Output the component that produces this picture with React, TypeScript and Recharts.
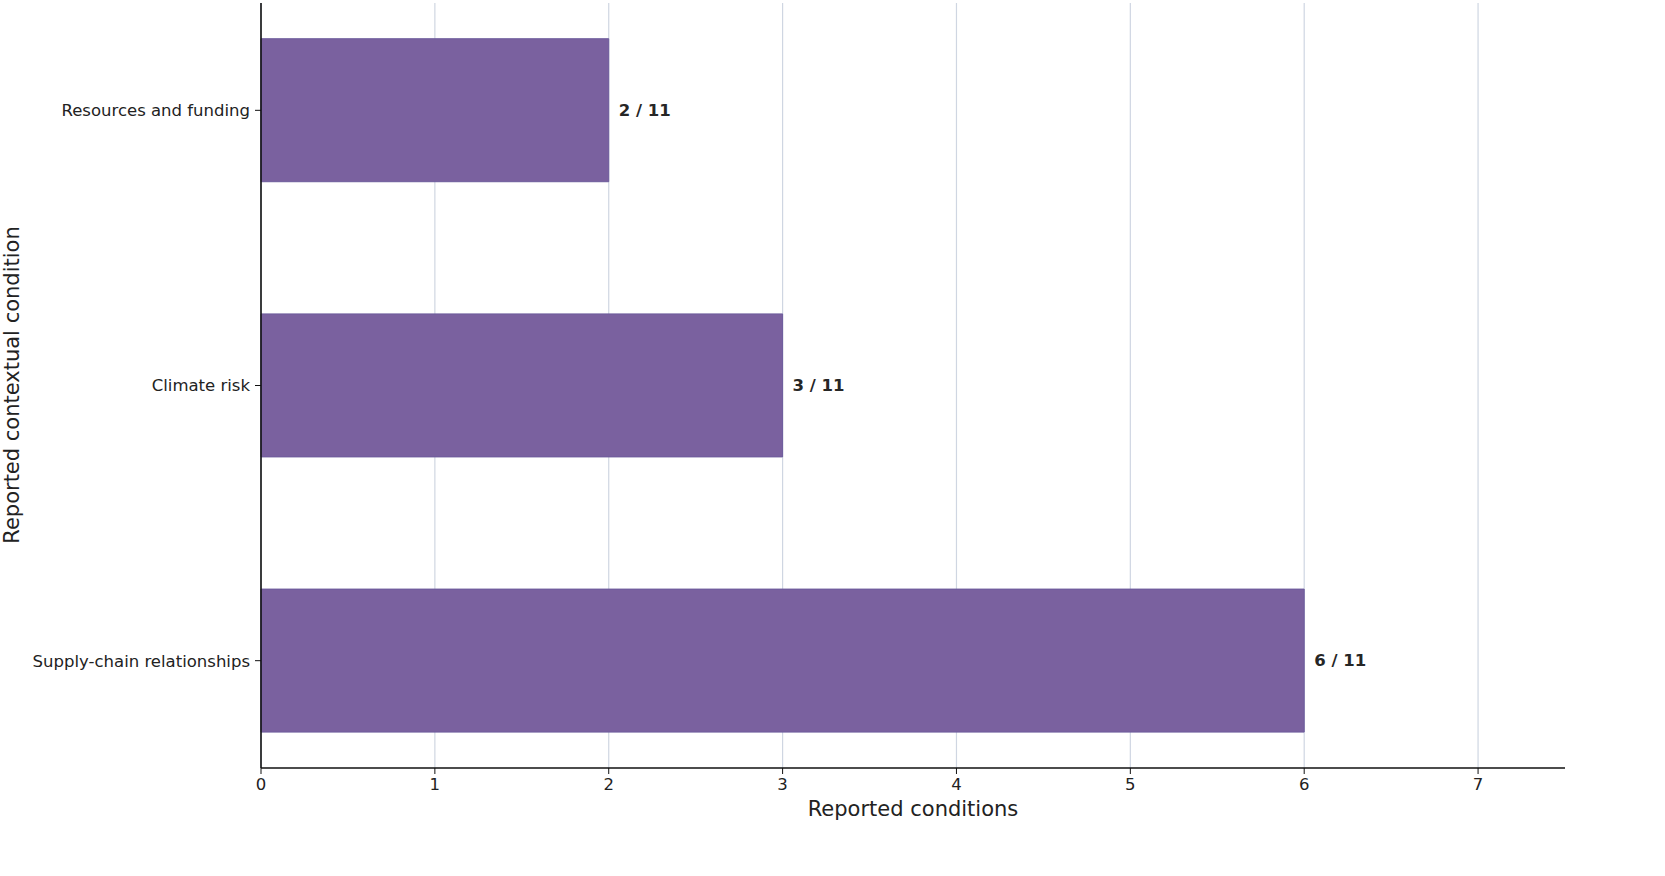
import { BarChart, Bar, XAxis, YAxis, CartesianGrid, LabelList } from 'recharts';

// bottom to top, as in the figure
const categories = ['Supply-chain relationships', 'Climate risk', 'Resources and funding'];
const counts = [6, 3, 2];
const totals = [11, 11, 11];
const xTicks = [0, 1, 2, 3, 4, 5, 6, 7];

const data = categories.map((name, i) => ({
  pos: i,
  name,
  count: counts[i],
  label: `${counts[i]} / ${totals[i]}`,
}));

const FONT = '"DejaVu Sans", sans-serif';

export default function App() {
  return (
    <div style={{ position: 'absolute', left: 0, top: 0, width: 1665, height: 876, background: '#fff', fontFamily: FONT }}>
      <BarChart width={1665} height={876} data={data} layout="vertical"
        margin={{ top: 3, right: 100, bottom: 0, left: 0 }}>
        <CartesianGrid horizontal={false} syncWithTicks stroke="#cfd6e2" strokeWidth={1.2} />
        <XAxis type="number" dataKey="count" domain={[0, 7.5]} ticks={xTicks} height={108}
          tick={{ fill: '#222', fontSize: 16.5, fontFamily: FONT }} tickSize={6} tickMargin={4}
          axisLine={{ stroke: '#111', strokeWidth: 1.6 }} tickLine={{ stroke: '#111' }} />
        <YAxis type="number" dataKey="pos" domain={[-0.39, 2.39]} ticks={[0, 1, 2]} width={261} reversed
          tickFormatter={(v: number) => categories[v] ?? ''}
          tick={{ fill: '#222', fontSize: 16.5, fontFamily: FONT }} tickSize={6} tickMargin={5}
          axisLine={{ stroke: '#111', strokeWidth: 1.6 }} tickLine={{ stroke: '#111' }} />
        <Bar dataKey="count" barSize={143} fill="#7a619f" stroke="#6c5b9b" strokeWidth={1} isAnimationActive={false}>
          <LabelList dataKey="label" position="right" offset={10}
            style={{ fill: '#262626', fontSize: 16.5, fontWeight: 700, fontFamily: FONT }} />
        </Bar>
      </BarChart>
      <div style={{ position: 'absolute', left: 261, width: 1304, top: 797, textAlign: 'center', fontSize: 21, color: '#222' }}>
        Reported conditions
      </div>
      <div style={{ position: 'absolute', left: 12, top: 385, transform: 'translate(-50%, -50%) rotate(-90deg)', whiteSpace: 'nowrap', fontSize: 21, color: '#222' }}>
        Reported contextual condition
      </div>
    </div>
  );
}
